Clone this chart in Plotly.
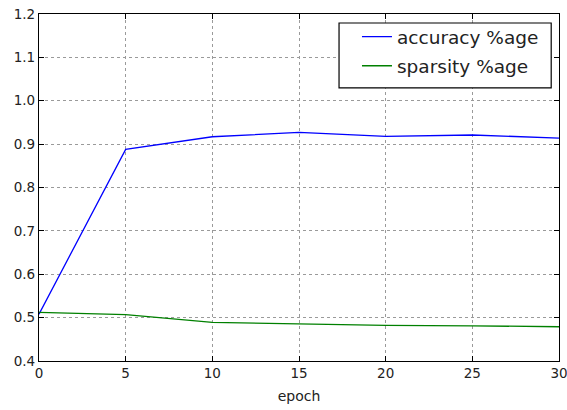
import plotly.graph_objects as go

epochs = [0, 5, 10, 15, 20, 25, 30]
accuracy = [0.508, 0.888, 0.917, 0.927, 0.918, 0.921, 0.914]
sparsity = [0.512, 0.507, 0.489, 0.485, 0.482, 0.481, 0.479]
x_ticks = [0, 5, 10, 15, 20, 25, 30]
y_ticks = [0.4, 0.5, 0.6, 0.7, 0.8, 0.9, 1.0, 1.1, 1.2]

fig = go.Figure()
fig.add_trace(go.Scatter(x=epochs, y=accuracy, mode="lines", name="accuracy %age",
                         legendgroup="a", line=dict(color="#0000ff", width=1.3)))
fig.add_trace(go.Scatter(x=epochs, y=sparsity, mode="lines", name="sparsity %age",
                         legendgroup="s", line=dict(color="#008000", width=1.3)))

axis_common = dict(
    showline=True, linecolor="black", linewidth=1.2, mirror="ticks",
    ticks="inside", ticklen=5, tickcolor="black", tickwidth=1,
    showgrid=True, gridcolor="#9a9a9a", griddash="dot", gridwidth=1,
    zeroline=False, automargin=False, ticklabeloverflow="allow",
    tickfont=dict(family="DejaVu Sans", size=13.5, color="#222"),
)

fig.update_xaxes(range=[0, 30], tickvals=x_ticks, ticktext=[str(v) for v in x_ticks],
                 title=dict(text="epoch", font=dict(family="DejaVu Sans", size=14, color="#222"), standoff=10),
                 **axis_common)
fig.update_yaxes(range=[0.4, 1.2], tickvals=y_ticks, ticktext=[f"{v:.1f}" for v in y_ticks],
                 **axis_common)

# legend frame
fig.add_shape(type="rect", xref="paper", yref="paper",
              x0=0.577, x1=0.985, y0=0.787, y1=0.974,
              line=dict(color="black", width=1.2), fillcolor="white", layer="above")

fig.update_layout(
    width=567, height=410,
    margin=dict(l=39, r=8, t=14, b=49),
    paper_bgcolor="white", plot_bgcolor="white",
    font=dict(family="DejaVu Sans", color="#222"),
    legend=dict(x=0.6115, y=0.988, xanchor="left", yanchor="top",
                borderwidth=0, bgcolor="rgba(0,0,0,0)",
                font=dict(family="DejaVu Sans", size=18.5, color="#222"),
                itemwidth=30, tracegroupgap=2),
    showlegend=True,
)

fig.write_html("out.html", config={"displayModeBar": False},
               post_script="document.body.style.margin='0';document.body.style.overflow='hidden';")
